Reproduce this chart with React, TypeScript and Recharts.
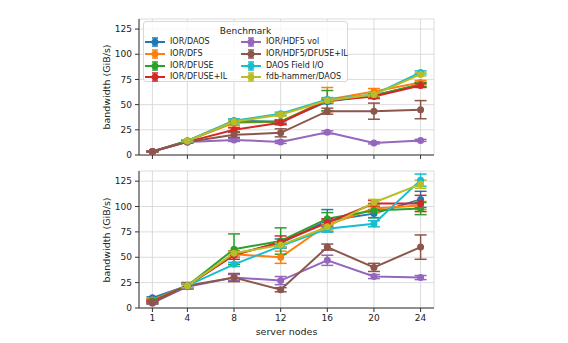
import React from 'react';
import { LineChart, Line, XAxis, YAxis, CartesianGrid, ErrorBar } from 'recharts';

const nodes = [1, 4, 8, 12, 16, 20, 24];
const benchmarks = [
  'IOR/DAOS',
  'IOR/DFS',
  'IOR/DFUSE',
  'IOR/DFUSE+IL',
  'IOR/HDF5 vol',
  'IOR/HDF5/DFUSE+IL',
  'DAOS Field I/O',
  'fdb-hammer/DAOS',
];
const colors = ['#1f77b4', '#ff7f0e', '#2ca02c', '#d62728', '#9467bd', '#8c564b', '#17becf', '#bcbd22'];
const yTicks = [0, 25, 50, 75, 100, 125];

// upper panel (GiB/s)
const topDaos = [3.5, 14, 34, 33, 53, 59, 70];
const topDfs = [3.5, 14, 32, 33, 55, 63, 72];
const topDfuse = [3.5, 14, 33, 33, 54, 59, 70];
const topDfuseIl = [3.5, 13, 25, 32, 54, 58, 69];
const topHdf5 = [3.5, 13, 15, 13, 22.5, 12, 14.5];
const topHdf5Il = [3.5, 13, 20, 22, 43.5, 43.5, 45];
const topField = [null, 14, 34, 41, 55, 60, 82];
const topFdb = [null, 14, 33, 40, 54, 60, 80];

const topDaosErr = [0.3, 1, 1.5, 1.5, 2, 2, 2];
const topDfsErr = [0.3, 1, 3, 2, 12, 3, 2];
const topDfuseErr = [0.3, 1, 2, 2, 10, 2, 2];
const topDfuseIlErr = [0.3, 1, 2, 2, 2, 2, 2];
const topHdf5Err = [0.3, 1, 1.5, 1.5, 1.5, 1, 1];
const topHdf5IlErr = [0.3, 1, 2.5, 4, 3, 8, 9];
const topFieldErr = [null, 1, 1.5, 1.5, 2, 2, 1.5];
const topFdbErr = [null, 1, 1.5, 1.5, 2, 2, 1.5];

// lower panel (GiB/s)
const botDaos = [10, 22, 53, 64, 86, 93, 107];
const botDfs = [8, 22, 53, 50, 82, 98, 101];
const botDfuse = [7, 22, 58, 66, 88, 96, 98];
const botDfuseIl = [6, 22, 52, 65, 84, 103, 103];
const botHdf5 = [5, 21, 30, 27, 47, 31, 30];
const botHdf5Il = [5, 22, 30, 18, 60, 40, 60];
const botField = [null, 22, 43, 61, 78, 83, 126];
const botFdb = [null, 22, 54, 62, 80, 104, 122];

const botDaosErr = [1, 2, 3, 4, 11, 4, 8];
const botDfsErr = [1, 3, 3, 6, 5, 4, 4];
const botDfuseErr = [1, 3, 15, 13, 6, 7, 6];
const botDfuseIlErr = [1, 2, 4, 6, 4, 3, 8];
const botHdf5Err = [1, 2, 3, 4, 5, 2, 2];
const botHdf5IlErr = [1, 3, 4, 2, 3, 4, 12];
const botFieldErr = [null, 2, 2, 2, 3, 3, 6];
const botFdbErr = [null, 2, 2, 2, 3, 3, 4];

const topValues = [topDaos, topDfs, topDfuse, topDfuseIl, topHdf5, topHdf5Il, topField, topFdb];
const topErrors = [topDaosErr, topDfsErr, topDfuseErr, topDfuseIlErr, topHdf5Err, topHdf5IlErr, topFieldErr, topFdbErr];
const botValues = [botDaos, botDfs, botDfuse, botDfuseIl, botHdf5, botHdf5Il, botField, botFdb];
const botErrors = [botDaosErr, botDfsErr, botDfuseErr, botDfuseIlErr, botHdf5Err, botHdf5IlErr, botFieldErr, botFdbErr];

const font = 'DejaVu Sans, sans-serif';
const axisColor = '#333';
const xDomain = [-0.15, 25.15];

const Panel = ({ values, errors, bottom }: { values: (number | null)[][]; errors: (number | null)[][]; bottom: boolean }) => {
  const rows = nodes.map((n, i) => {
    const row: any = { nodes: n };
    benchmarks.forEach((_, s) => {
      row['v' + s] = values[s][i];
      row['e' + s] = errors[s][i];
    });
    return row;
  });
  const tickStyle = { fontSize: 9, fill: '#222', fontFamily: font };

  return (
    <LineChart
      width={568}
      height={bottom ? 178 : 170}
      data={rows}
      margin={{ top: bottom ? 6 : 19, right: 134, bottom: 0, left: 99 }}
    >
      <CartesianGrid stroke="#d3d3d3" strokeWidth={0.8} />
      <XAxis
        dataKey="nodes"
        type="number"
        domain={xDomain}
        allowDataOverflow
        ticks={nodes}
        height={bottom ? 35 : 15}
        tickSize={4}
        tickMargin={3}
        stroke={axisColor}
        tick={tickStyle}
        tickFormatter={bottom ? undefined : () => ''}
        label={bottom ? { value: 'server nodes', position: 'insideBottom', offset: 8, style: { fontSize: 9.5, fill: '#222', fontFamily: font } } : undefined}
      />
      <XAxis xAxisId="top" dataKey="nodes" type="number" domain={xDomain} allowDataOverflow orientation="top" height={0} tick={false} tickLine={false} stroke={axisColor} />
      <YAxis
        type="number"
        domain={[0, 135]}
        allowDataOverflow
        ticks={yTicks}
        width={40}
        tickSize={4}
        tickMargin={3}
        stroke={axisColor}
        tick={tickStyle}
      />
      <YAxis yAxisId="right" orientation="right" domain={[0, 135]} width={0} tick={false} tickLine={false} stroke={axisColor} />
      {benchmarks.map((name, s) => (
        <Line
          key={name}
          name={name}
          dataKey={'v' + s}
          stroke={colors[s]}
          strokeWidth={2}
          dot={{ r: 3.5, fill: colors[s], stroke: colors[s], strokeWidth: 0 }}
          activeDot={false}
          isAnimationActive={false}
        >
          <ErrorBar dataKey={'e' + s} width={6} stroke={colors[s]} strokeWidth={1.5} direction="y" />
        </Line>
      ))}
    </LineChart>
  );
};

const Handle = ({ color }: { color: string }) => (
  <svg width={20} height={10} style={{ display: 'block' }}>
    <line x1={0} y1={5} x2={20} y2={5} stroke={color} strokeWidth={2} />
    <line x1={10} y1={1} x2={10} y2={9} stroke={color} strokeWidth={1.5} />
    <line x1={7} y1={1} x2={13} y2={1} stroke={color} strokeWidth={1.5} />
    <line x1={7} y1={9} x2={13} y2={9} stroke={color} strokeWidth={1.5} />
    <circle cx={10} cy={5} r={3.5} fill={color} />
  </svg>
);

const BenchLegend = () => (
  <div
    style={{
      position: 'absolute',
      left: 143,
      top: 21,
      width: 205,
      height: 61,
      boxSizing: 'border-box',
      border: '1px solid #d8d8d8',
      borderRadius: 3,
      background: 'rgba(255,255,255,0.8)',
      fontFamily: font,
      color: '#222',
    }}
  >
    <div style={{ position: 'absolute', top: 3, width: '100%', textAlign: 'center', fontSize: 9, lineHeight: '12px' }}>Benchmark</div>
    {benchmarks.map((name, s) => {
      const col = s < 4 ? 0 : 1;
      const row = s % 4;
      return (
        <div
          key={name}
          style={{
            position: 'absolute',
            left: col === 0 ? 1 : 97,
            top: 15 + row * 11.8,
            display: 'flex',
            alignItems: 'center',
            fontSize: 8,
            lineHeight: '10px',
            whiteSpace: 'nowrap',
          }}
        >
          <Handle color={colors[s]} />
          <span style={{ marginLeft: 5 }}>{name}</span>
        </div>
      );
    })}
  </div>
);

const YLabel = ({ cy }: { cy: number }) => (
  <div
    style={{
      position: 'absolute',
      left: 107 - 60,
      top: cy - 6,
      width: 120,
      height: 12,
      lineHeight: '12px',
      textAlign: 'center',
      fontSize: 9.5,
      fontFamily: font,
      color: '#222',
      transform: 'rotate(-90deg)',
      whiteSpace: 'nowrap',
    }}
  >
    bandwidth (GiB/s)
  </div>
);

export default function App() {
  return (
    <div style={{ position: 'absolute', left: 0, top: 0, width: 568, height: 343, background: '#fff', overflow: 'hidden' }}>
      <div style={{ position: 'absolute', left: 0, top: 0 }}>
        <Panel values={topValues} errors={topErrors} bottom={false} />
      </div>
      <div style={{ position: 'absolute', left: 0, top: 165 }}>
        <Panel values={botValues} errors={botErrors} bottom={true} />
      </div>
      <BenchLegend />
      <YLabel cy={87} />
      <YLabel cy={239.5} />
    </div>
  );
}
